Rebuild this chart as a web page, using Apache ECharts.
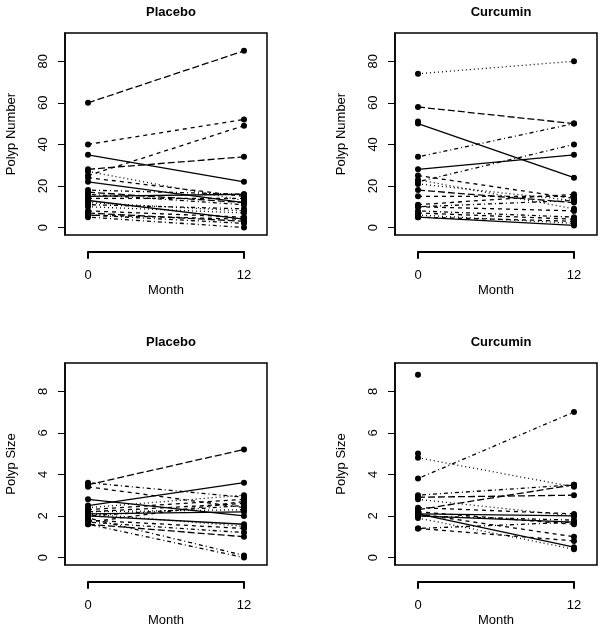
<!DOCTYPE html>
<html>
<head>
<meta charset="utf-8">
<script src="https://cdn.jsdelivr.net/npm/echarts@6/dist/echarts.min.js"></script>
<style>
html,body{margin:0;padding:0;background:#fff;}
#c{width:604px;height:631px;}
</style>
</head>
<body>
<div id="c"></div>
<script>
// ---- data ----
var months = [0, 12];
var panelTitles = ["Placebo", "Curcumin", "Placebo", "Curcumin"];
var yNames = ["Polyp Number", "Polyp Number", "Polyp Size", "Polyp Size"];
var numberTicks = [0, 20, 40, 60, 80];
var sizeTicks = [0, 2, 4, 6, 8];

// Placebo, polyp number (month 0, month 12, line type)
var placeboNum0  = [60, 40, 25, 28, 35, 27, 22, 24, 18, 17, 15, 14, 16, 12, 13, 11, 8, 7, 6, 5, 6, 10];
var placeboNum12 = [85, 52, 49, 34, 22, 13, 12, 15, 16, 12, 16, 14, 11, 8, 4, 9, 5, 3, 2, 0, 4, 7];
var placeboNumLty = [5, 2, 2, 5, 1, 3, 1, 2, 4, 5, 1, 2, 4, 3, 1, 4, 2, 5, 4, 4, 2, 3];

// Curcumin, polyp number
var curcuminNum0  = [74, 58, 50, 34, 28, 22, 23, 21, 25, 15, 11, 10, 10, 8, 7, 5, 5, 18, 6, 51];
var curcuminNum12 = [80, 50, 24, 50, 35, 40, 9, 13, 14, 15, 16, 13, 8, 5, 4, 3, 1, 12, 2, null];
var curcuminNumLty = [3, 5, 1, 4, 1, 4, 3, 3, 2, 2, 2, 4, 2, 4, 2, 2, 1, 5, 3, 1];

// Placebo, polyp size
var placeboSize0  = [3.5, 3.6, 2.5, 2.8, 2.3, 2.2, 2.1, 2.0, 1.9, 1.7, 1.6, 1.8, 2.2, 1.6, 2.4, 2.0, 1.7, 2.1, 3.4];
var placeboSize12 = [5.2, 2.9, 3.6, 2.0, 2.8, 2.6, 2.2, 1.6, 0.1, 1.2, 1.0, 1.4, 2.3, 0.0, 3.0, 2.5, 2.7, 1.5, 2.4];
var placeboSizeLty = [5, 4, 1, 1, 2, 2, 1, 1, 4, 4, 5, 2, 3, 4, 3, 4, 2, 3, 2];

// Curcumin, polyp size
var curcuminSize0  = [8.8, 4.8, 3.8, 3.0, 2.9, 2.3, 2.8, 2.4, 2.1, 2.0, 2.1, 2.0, 1.9, 2.1, 1.4, 1.4, 2.2, 5.0];
var curcuminSize12 = [null, 3.4, 7.0, 3.5, 3.0, 3.5, 2.0, 2.1, 2.0, 1.7, 0.5, 1.8, 0.4, 1.0, 1.7, 0.8, 1.6, null];
var curcuminSizeLty = [1, 3, 4, 4, 5, 5, 3, 2, 1, 1, 1, 4, 3, 2, 4, 2, 2, 3];

// ---- layout/style ----
var FONT = "Liberation Sans, Arial, Helvetica, sans-serif";
var dashes = {1: 'solid', 2: [4, 4], 3: [1, 3], 4: [1, 3, 4, 3], 5: [7, 3], 6: [2, 2, 6, 2]};
var panels = [
  {left: 65,  top: 33,  y0: placeboNum0,   y1: placeboNum12,   lty: placeboNumLty,   ymin: -3.6,  ymax: 93.6, ticks: numberTicks},
  {left: 395, top: 33,  y0: curcuminNum0,  y1: curcuminNum12,  lty: curcuminNumLty,  ymin: -3.6,  ymax: 93.6, ticks: numberTicks},
  {left: 65,  top: 363, y0: placeboSize0,  y1: placeboSize12,  lty: placeboSizeLty,  ymin: -0.36, ymax: 9.36, ticks: sizeTicks},
  {left: 395, top: 363, y0: curcuminSize0, y1: curcuminSize12, lty: curcuminSizeLty, ymin: -0.36, ymax: 9.36, ticks: sizeTicks}
];
var BOX = 202, XMIN = -1.77, XMAX = 13.77;
var pxPerUnit = BOX / (XMAX - XMIN);

var grid = [], xAxis = [], yAxis = [], series = [], title = [];
panels.forEach(function (p, i) {
  var gMain = grid.length;
  grid.push({left: p.left, top: p.top, width: BOX, height: BOX, show: true,
    borderColor: '#000', borderWidth: 1.5, backgroundColor: 'transparent'});
  xAxis.push({gridIndex: gMain, type: 'value', min: XMIN, max: XMAX, show: false});
  yAxis.push({gridIndex: gMain, type: 'value', min: p.ymin, max: p.ymax,
    name: yNames[i], nameLocation: 'middle', nameGap: 47,
    nameTextStyle: {fontFamily: FONT, fontSize: 13, color: '#000'},
    axisLine: {show: true, onZero: false, lineStyle: {color: '#000', width: 1.5}},
    axisTick: {show: true, length: 7, lineStyle: {color: '#000', width: 1}, customValues: p.ticks},
    axisLabel: {show: true, rotate: 90, margin: 15, fontFamily: FONT, fontSize: 13, color: '#000', customValues: p.ticks},
    splitLine: {show: false}});
  // month axis below the box
  var gAx = grid.length;
  grid.push({left: p.left + (0 - XMIN) * pxPerUnit, top: p.top + BOX + 15.7, width: 12 * pxPerUnit, height: 1, show: false});
  xAxis.push({gridIndex: gAx, type: 'value', min: months[0], max: months[1], interval: 12,
    name: 'Month', nameLocation: 'middle', nameGap: 32,
    nameTextStyle: {fontFamily: FONT, fontSize: 13, color: '#000'},
    axisLine: {show: true, onZero: false, lineStyle: {color: '#000', width: 2}},
    axisTick: {show: true, length: 7, lineStyle: {color: '#000', width: 2}},
    axisLabel: {show: true, margin: 17, fontFamily: FONT, fontSize: 13, color: '#000'},
    splitLine: {show: false}});
  yAxis.push({gridIndex: gAx, type: 'value', show: false});
  title.push({text: panelTitles[i], left: p.left + BOX / 2, top: p.top - 32, textAlign: 'center',
    textStyle: {fontFamily: FONT, fontSize: 13, fontWeight: 'bold', color: '#000'}});
  p.y0.forEach(function (v0, k) {
    var v1 = p.y1[k];
    var data = [[months[0], v0]];
    if (v1 !== null && v1 !== undefined) data.push([months[1], v1]);
    series.push({type: 'line', xAxisIndex: gMain, yAxisIndex: gMain, data: data,
      symbol: 'circle', symbolSize: 6, silent: true, animation: false,
      itemStyle: {color: '#000'},
      lineStyle: {color: '#000', width: 1.3, type: dashes[p.lty[k]]}});
  });
});

var chart = echarts.init(document.getElementById('c'), null, {renderer: 'canvas'});
chart.setOption({backgroundColor: '#fff', animation: false, title: title, grid: grid, xAxis: xAxis, yAxis: yAxis, series: series});
</script>
</body>
</html>
